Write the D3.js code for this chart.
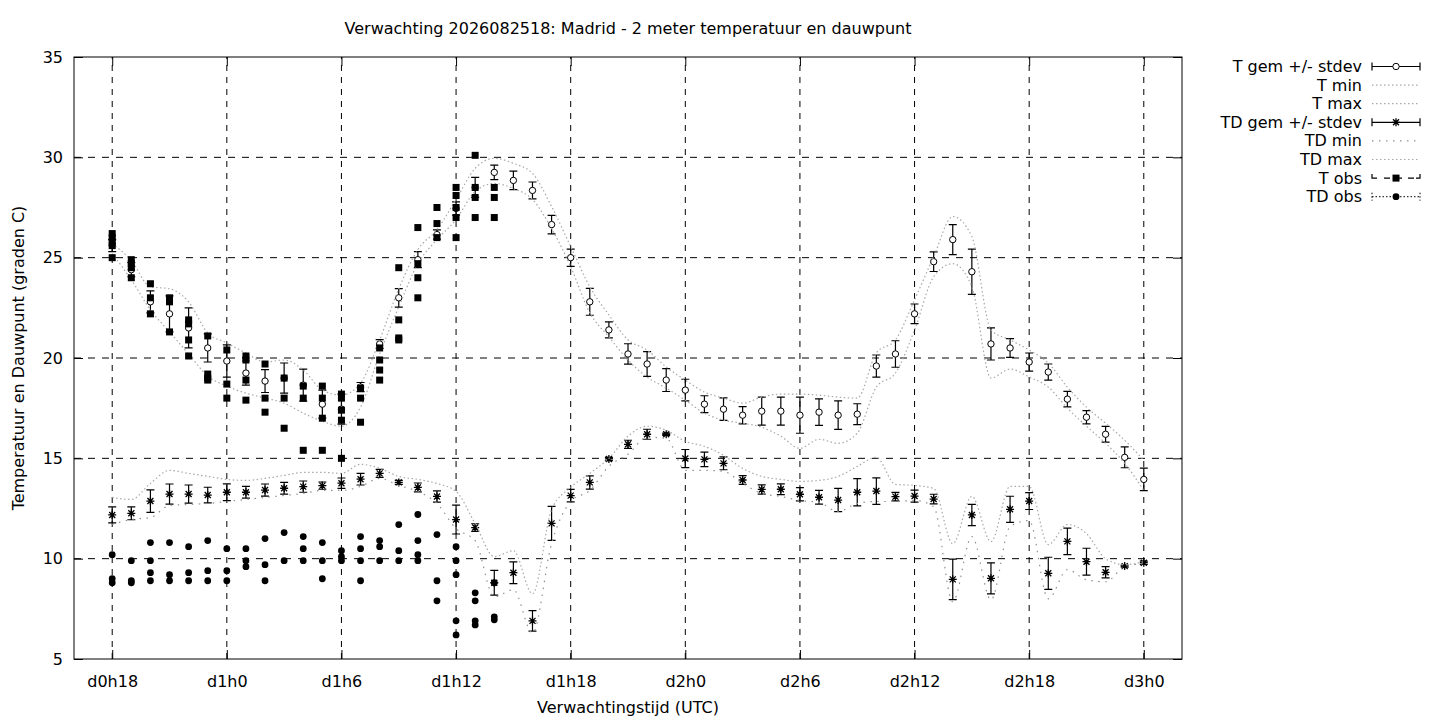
<!DOCTYPE html>
<html>
<head>
<meta charset="utf-8">
<script src="https://cdn.jsdelivr.net/npm/d3@7"></script>
<style>
  body { margin: 0; background: #fff; }
  text { font-family: "DejaVu Sans", sans-serif; font-size: 16px; fill: #000; }
</style>
</head>
<body>
<script>
// forecast hours since d0h0
const hours = [18, 19, 20, 21, 22, 23, 24, 25, 26, 27, 28, 29, 30, 31, 32, 33, 34, 35, 36,
  37, 38, 39, 40, 41, 42, 43, 44, 45, 46, 47, 48, 49, 50, 51, 52, 53, 54, 55, 56, 57, 58,
  59, 60, 61, 62, 63, 64, 65, 66, 67, 68, 69, 70, 71, 72];

const tGem = [25.6, 24.4, 22.8, 22.2, 21.5, 20.5, 19.85, 19.25, 18.85, 19.0, 18.65, 17.7, 17.45,
  18.55, 20.7, 23.0, 24.9, 26.15, 27.45, 28.5, 29.25, 28.85, 28.35, 26.65, 25.0, 22.8, 21.4,
  20.2, 19.7, 18.9, 18.4, 17.7, 17.45, 17.15, 17.35, 17.35, 17.15, 17.3, 17.15, 17.2, 19.6,
  20.2, 22.2, 24.8, 25.9, 24.3, 20.7, 20.5, 19.8, 19.3, 17.95, 17.05, 16.2, 15.05, 13.95];
const tSd = [0.3, 0.35, 0.55, 0.9, 1.0, 0.7, 0.8, 0.6, 0.57, 0.75, 0.8, 0.7, 0.75, 0.23, 0.22,
  0.46, 0.4, 0.23, 0.33, 0.5, 0.36, 0.46, 0.42, 0.46, 0.43, 0.67, 0.4, 0.51, 0.62, 0.57, 0.54,
  0.42, 0.56, 0.43, 0.7, 0.7, 0.9, 0.66, 0.71, 0.52, 0.55, 0.66, 0.49, 0.49, 0.75, 1.13, 0.8,
  0.47, 0.45, 0.4, 0.39, 0.33, 0.39, 0.52, 0.56];
const tMin = [25.2, 23.9, 22.4, 21.3, 20.2, 19.1, 18.6, 18.25, 18.0, 17.75, 17.25, 16.85, 16.6,
  17.55, 20.2, 22.55, 24.7, 25.9, 26.9, 28.3, 28.7, 28.45, 27.9, 26.45, 24.55, 22.25, 21.05,
  19.9, 19.05, 18.5, 17.9, 17.25, 16.9, 16.75, 16.55, 16.1, 15.5, 15.95, 15.75, 16.25, 18.55,
  19.25, 21.4, 24.05, 24.7, 23.55, 19.0, 19.45, 19.05, 18.55, 17.5, 16.6, 15.75, 14.75, 13.4];
const tMax = [25.7, 24.85, 23.55, 23.45, 22.8, 21.25, 20.75, 20.25, 19.8, 19.9, 19.4, 18.4, 18.15,
  18.75, 20.9, 23.45, 25.4, 26.4, 27.9, 29.45, 29.95, 29.7, 29.2, 27.55, 25.55, 23.55, 22.15,
  20.9, 20.4, 19.55, 18.9, 18.3, 18.0, 17.75, 18.05, 18.2, 18.2, 18.15, 18.05, 18.0, 20.25,
  20.9, 22.9, 25.05, 27.05, 26.05, 21.4, 20.9, 20.4, 19.75, 18.55, 17.55, 16.75, 15.9, 14.9];

const tdGem = [12.18, 12.26, 12.87, 13.22, 13.22, 13.17, 13.31, 13.31, 13.42, 13.51, 13.59, 13.64,
  13.76, 13.96, 14.25, 13.8, 13.55, 13.1, 11.95, 11.55, 8.8, 9.3, 6.9, 11.76, 13.14, 13.8, 14.97,
  15.7, 16.2, 16.2, 14.99, 14.95, 14.75, 13.92, 13.45, 13.46, 13.21, 13.06, 12.92, 13.31, 13.37,
  13.09, 13.12, 12.97, 8.97, 12.18, 9.02, 12.46, 12.87, 9.27, 10.86, 9.85, 9.32, 9.63, 9.8];
const tdSd = [0.4, 0.32, 0.56, 0.5, 0.45, 0.39, 0.42, 0.29, 0.3, 0.29, 0.28, 0.18, 0.26, 0.29, 0.2,
  0.1, 0.22, 0.28, 0.72, 0.19, 0.62, 0.54, 0.51, 0.85, 0.31, 0.33, 0.08, 0.2, 0.25, 0.06, 0.45,
  0.36, 0.32, 0.22, 0.23, 0.27, 0.33, 0.34, 0.58, 0.68, 0.66, 0.21, 0.3, 0.24, 1.01, 0.53, 0.77,
  0.65, 0.42, 0.8, 0.66, 0.67, 0.28, 0.05, 0.08];
const tdMin = [11.7, 11.95, 12.05, 12.65, 12.7, 12.75, 12.85, 12.95, 13.05, 13.15, 13.25, 13.4, 13.4,
  13.6, 14.0, 13.65, 13.35, 12.75, 11.5, 10.9, 8.1, 8.45, 6.3, 10.75, 12.85, 13.4, 14.6, 15.2,
  16.05, 16.0, 14.4, 14.4, 14.35, 13.75, 13.25, 13.1, 12.9, 12.8, 12.35, 12.75, 12.85, 12.85,
  12.9, 12.6, 7.85, 11.1, 7.95, 11.6, 11.9, 8.0, 9.45, 8.95, 8.85, 9.6, 9.75];
const tdMax = [13.05, 12.95, 13.75, 14.4, 14.25, 14.1, 13.95, 13.9, 14.0, 14.15, 14.3, 14.3, 14.25,
  14.7, 14.5, 14.1, 13.95, 13.75, 13.35, 11.75, 10.1, 10.4, 8.25, 12.45, 13.55, 14.25, 15.0, 16.1,
  16.6, 16.4, 15.85, 15.6, 15.15, 14.5, 14.1, 13.95, 13.85, 13.9, 14.1, 14.6, 15.05, 13.7, 13.65,
  13.5, 10.75, 13.1, 10.85, 13.6, 13.6, 10.7, 11.7, 11.25, 10.0, 9.7, 9.85];

// station observations per hour
const obsHours = [18, 19, 20, 21, 22, 23, 24, 25, 26, 27, 28, 29, 30, 31, 32, 33, 34, 35, 36, 37, 38];
const tObs = [
  [26.2, 26.0, 25.8, 25.6, 25.0], [24.9, 24.7, 24.5, 24.0], [23.7, 23.0, 22.2], [23.0, 22.8, 21.3],
  [21.9, 21.7, 20.9, 20.1], [21.1, 19.2, 19.0, 18.9], [20.4, 18.7, 18.0], [20.1, 19.9, 18.9, 17.9],
  [19.7, 18.0, 17.3], [19.0, 18.0, 16.5], [18.6, 18.0, 15.4], [18.6, 18.0, 17.0, 15.4],
  [18.2, 18.0, 17.4, 16.9, 15.0], [18.5, 18.0, 16.8], [20.5, 19.9, 19.4, 18.9], [24.5, 21.9, 21.0, 20.9],
  [26.5, 24.7, 24.0, 23.0], [27.5, 26.7, 26.0], [28.5, 28.1, 27.5, 27.0, 26.0], [30.1, 28.5, 28.0, 27.0],
  [28.5, 28.0, 27.0]];
const tdObs = [
  [10.2, 9.0, 8.8], [9.9, 8.9, 8.8], [10.8, 9.9, 9.3, 8.9], [10.8, 9.2, 8.9], [10.6, 9.3, 8.9],
  [10.9, 9.4, 8.9], [10.5, 9.4, 8.9], [10.5, 9.9, 9.6], [11.0, 9.7, 8.9], [11.3, 9.9],
  [11.1, 10.5, 9.9], [10.8, 9.9, 9.0], [10.4, 10.1, 9.9], [11.1, 10.5, 9.9, 8.9], [10.9, 10.6, 9.9],
  [11.7, 10.4, 9.9], [12.2, 10.9, 10.2, 9.9], [11.2, 8.9, 7.9], [10.6, 9.9, 9.2, 6.9, 6.2],
  [8.3, 7.9, 6.9, 6.7], [8.8, 7.1, 6.95]];

const xTicks = [18, 24, 30, 36, 42, 48, 54, 60, 66, 72];
const yTicks = [5, 10, 15, 20, 25, 30, 35];
const legendLabels = ["T gem +/- stdev", "T min", "T max", "TD gem +/- stdev",
  "TD min", "TD max", "T obs", "TD obs"];

const width = 1440, height = 720;
const margin = {top: 57, right: 258, bottom: 61, left: 74};

const x = d3.scaleLinear().domain([16, 74]).range([margin.left, width - margin.right]);
const y = d3.scaleLinear().domain([5, 35]).range([height - margin.bottom, margin.top]);
const fmtHour = h => `d${Math.floor(h / 24)}h${h % 24}`;

const svg = d3.select("body").append("svg")
    .attr("width", width)
    .attr("height", height);

svg.append("rect").attr("width", width).attr("height", height).attr("fill", "#fff");

// grid
svg.append("g")
  .selectAll("line")
  .data(xTicks)
  .join("line")
    .attr("x1", d => x(d)).attr("x2", d => x(d))
    .attr("y1", y(5)).attr("y2", y(35))
    .attr("stroke", "#000").attr("stroke-dasharray", "6,6");
svg.append("g")
  .selectAll("line")
  .data(yTicks.slice(1, -1))
  .join("line")
    .attr("x1", x(16)).attr("x2", x(74))
    .attr("y1", d => y(d)).attr("y2", d => y(d))
    .attr("stroke", "#000").attr("stroke-dasharray", "7,7");

// axes, ticks inward, mirrored
svg.append("g")
    .attr("transform", `translate(0,${y(5)})`)
    .call(d3.axisBottom(x).tickValues(xTicks).tickFormat(fmtHour).tickSizeInner(-9).tickSizeOuter(0).tickPadding(17))
    .call(g => g.select(".domain").remove())
    .call(g => g.selectAll("text").attr("font-size", null).attr("font-family", null));
svg.append("g")
    .attr("transform", `translate(0,${y(35)})`)
    .call(d3.axisTop(x).tickValues(xTicks).tickFormat("").tickSizeInner(-9).tickSizeOuter(0))
    .call(g => g.select(".domain").remove());
svg.append("g")
    .attr("transform", `translate(${x(16)},0)`)
    .call(d3.axisLeft(y).tickValues(yTicks).tickSizeInner(-9).tickSizeOuter(0).tickPadding(11))
    .call(g => g.select(".domain").remove())
    .call(g => g.selectAll("text").attr("font-size", null).attr("font-family", null));
svg.append("g")
    .attr("transform", `translate(${x(74)},0)`)
    .call(d3.axisRight(y).tickValues(yTicks).tickFormat("").tickSizeInner(-9).tickSizeOuter(0))
    .call(g => g.select(".domain").remove());

svg.append("rect")
    .attr("x", x(16)).attr("y", y(35))
    .attr("width", x(74) - x(16)).attr("height", y(5) - y(35))
    .attr("fill", "none").attr("stroke", "#000");

// titles
svg.append("text")
    .attr("x", (x(16) + x(74)) / 2).attr("y", 34)
    .attr("text-anchor", "middle")
    .text("Verwachting 2026082518: Madrid - 2 meter temperatuur en dauwpunt");
svg.append("text")
    .attr("x", (x(16) + x(74)) / 2).attr("y", 713)
    .attr("text-anchor", "middle")
    .text("Verwachtingstijd (UTC)");
svg.append("text")
    .attr("transform", `translate(24,${(y(5) + y(35)) / 2}) rotate(-90)`)
    .attr("text-anchor", "middle")
    .text("Temperatuur en Dauwpunt (graden C)");

const asterisk = "M-4,0H4M0,-4V4M-3,-3L3,3M-3,3L3,-3";

function errorBars(g, mean, sd) {
  const cap = 4;
  g.selectAll("path.err")
    .data(hours)
    .join("path")
      .attr("class", "err")
      .attr("fill", "none").attr("stroke", "#000").attr("stroke-width", 1.2)
      .attr("d", (h, i) => {
        const cx = x(h), lo = y(mean[i] - sd[i]), hi = y(mean[i] + sd[i]);
        return `M${cx},${lo}V${hi}M${cx - cap},${lo}H${cx + cap}M${cx - cap},${hi}H${cx + cap}`;
      });
}

function dotted(series, dash, color) {
  svg.append("path")
      .datum(series)
      .attr("fill", "none")
      .attr("stroke", color)
      .attr("stroke-width", 1.2)
      .attr("stroke-dasharray", dash)
      .attr("d", d3.line().x((d, i) => x(hours[i])).y(d => y(d)).curve(d3.curveMonotoneX));
}

// T gem
const gT = svg.append("g");
errorBars(gT, tGem, tSd);
gT.selectAll("circle")
  .data(hours)
  .join("circle")
    .attr("cx", h => x(h)).attr("cy", (h, i) => y(tGem[i]))
    .attr("r", 3.2).attr("fill", "#fff").attr("stroke", "#000");

dotted(tMin, "1.5,2.5", "#a8a8a8");
dotted(tMax, "1.5,2.5", "#a8a8a8");

// TD gem
const gTD = svg.append("g");
errorBars(gTD, tdGem, tdSd);
gTD.selectAll("path.star")
  .data(hours)
  .join("path")
    .attr("class", "star")
    .attr("transform", (h, i) => `translate(${x(h)},${y(tdGem[i])})`)
    .attr("d", asterisk)
    .attr("stroke", "#000").attr("stroke-width", 1.3);

dotted(tdMin, "1.5,5.5", "#909090");
dotted(tdMax, "1.5,2.5", "#a8a8a8");

// observations
const tPts = obsHours.flatMap((h, i) => tObs[i].map(v => [h, v]));
const tdPts = obsHours.flatMap((h, i) => tdObs[i].map(v => [h, v]));

svg.append("g")
  .selectAll("rect")
  .data(tPts)
  .join("rect")
    .attr("x", d => x(d[0]) - 3.5).attr("y", d => y(d[1]) - 3.5)
    .attr("width", 7).attr("height", 7).attr("fill", "#000");
svg.append("g")
  .selectAll("circle")
  .data(tdPts)
  .join("circle")
    .attr("cx", d => x(d[0])).attr("cy", d => y(d[1]))
    .attr("r", 3.4).attr("fill", "#000");

// legend
const lx0 = 1372, lx1 = 1420, lxm = 1396, ly0 = 66.5, ldy = 18.6;
const legend = svg.append("g");
legend.selectAll("text")
  .data(legendLabels)
  .join("text")
    .attr("x", 1362).attr("y", (d, i) => ly0 + i * ldy + 5.5)
    .attr("text-anchor", "end")
    .text(d => d);

function legendBar(i, dash) {
  const cy = ly0 + i * ldy;
  legend.append("path")
      .attr("d", `M${lx0},${cy}H${lx1}M${lx0},${cy - 4}V${cy + 4}M${lx1},${cy - 4}V${cy + 4}`)
      .attr("fill", "none").attr("stroke", "#000").attr("stroke-width", 1.2)
      .attr("stroke-dasharray", dash);
  return cy;
}
function legendDots(i, dash, color) {
  const cy = ly0 + i * ldy;
  legend.append("line")
      .attr("x1", lx0).attr("x2", lx1).attr("y1", cy).attr("y2", cy)
      .attr("stroke", color).attr("stroke-width", 1.2).attr("stroke-dasharray", dash);
}

let cy = legendBar(0, null);
legend.append("circle").attr("cx", lxm).attr("cy", cy).attr("r", 3.2).attr("fill", "#fff").attr("stroke", "#000");
legendDots(1, "1.5,2.5", "#a8a8a8");
legendDots(2, "1.5,2.5", "#a8a8a8");
cy = legendBar(3, null);
legend.append("path").attr("transform", `translate(${lxm},${cy})`).attr("d", asterisk)
    .attr("stroke", "#000").attr("stroke-width", 1.3);
legendDots(4, "1.5,5.5", "#909090");
legendDots(5, "1.5,2.5", "#a8a8a8");
cy = ly0 + 6 * ldy;
legend.append("path")
    .attr("d", `M${lx0},${cy - 4}V${cy}H${lx0 + 5}M${lx0 + 12},${cy}H${lx0 + 18}M${lxm},${cy}H${lxm + 6}M${lxm + 12},${cy}H${lxm + 18}M${lx1 - 4},${cy}H${lx1}V${cy - 4}`)
    .attr("fill", "none").attr("stroke", "#000").attr("stroke-width", 1.2);
legend.append("rect").attr("x", lxm - 3.5).attr("y", cy - 3.5).attr("width", 7).attr("height", 7).attr("fill", "#000");
cy = ly0 + 7 * ldy;
legend.append("path")
    .attr("d", `M${lx0},${cy - 4}V${cy + 4}M${lx0},${cy}H${lx1}M${lx1},${cy - 4}V${cy + 4}`)
    .attr("fill", "none").attr("stroke", "#000").attr("stroke-width", 1).attr("stroke-dasharray", "1.5,2");
legend.append("circle").attr("cx", lxm).attr("cy", cy).attr("r", 3.4).attr("fill", "#000");
</script>
</body>
</html>
